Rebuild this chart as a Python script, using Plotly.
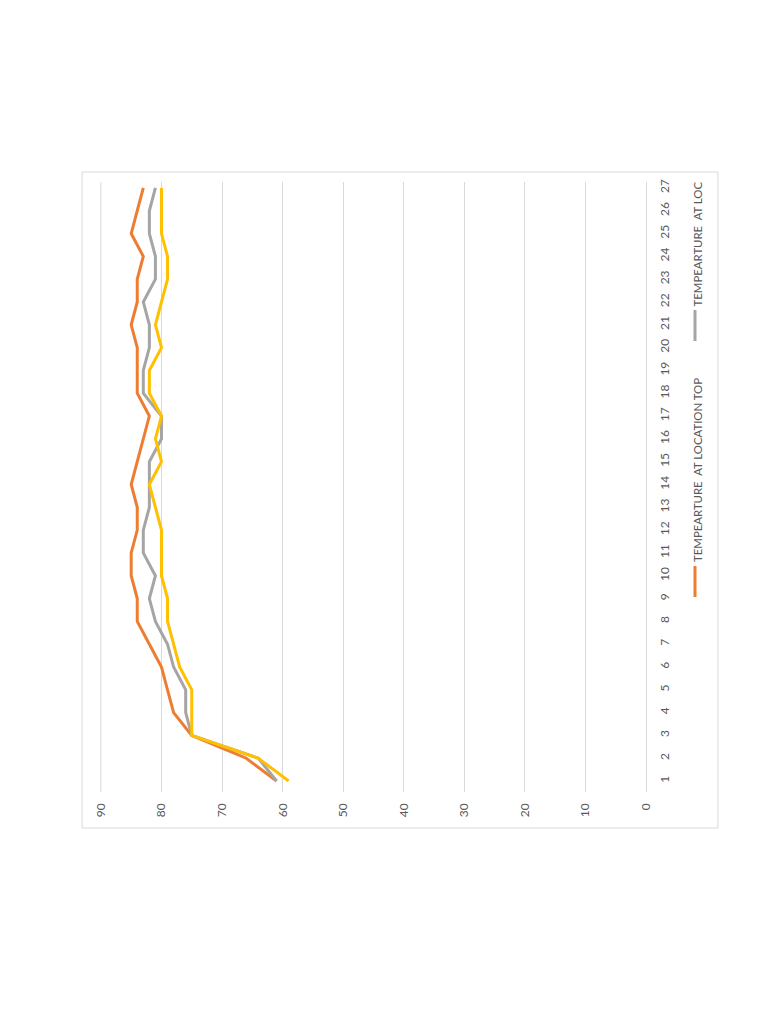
import plotly.graph_objects as go

# ---- data ----
categories = list(range(1, 28))
temp_top = [61, 66, 75, 78, 79, 80, 82, 84, 84, 85, 85, 84, 84, 85, 84, 83, 82, 84, 84, 84, 85, 84, 84, 83, 85, 84, 83]
temp_loc2 = [61, 64, 75, 76, 76, 78, 79, 81, 82, 81, 83, 83, 82, 82, 82, 80, 80, 83, 83, 82, 82, 83, 81, 81, 82, 82, 81]
temp_loc3 = [59, 64, 75, 75, 75, 77, 78, 79, 79, 80, 80, 80, 81, 82, 80, 81, 80, 82, 82, 80, 81, 80, 79, 79, 80, 80, 80]
value_ticks = [0, 10, 20, 30, 40, 50, 60, 70, 80, 90]
legend_labels = ["TEMPEARTURE  AT LOCATION TOP", "TEMPEARTURE  AT LOC"]

colors = ["#ED7D31", "#A5A5A5", "#FFC000"]
series = [temp_top, temp_loc2, temp_loc3]
names = ["TEMPEARTURE  AT LOCATION TOP", "TEMPEARTURE  AT LOCATION 2", "TEMPEARTURE  AT LOCATION 3"]

W, H = 768, 1024
L, R, T, B = 100, 122, 182, 232
PW, PH = W - L - R, H - T - B

def px(x):
    return (x - L) / PW

def py(y):
    return (H - B - y) / PH

FONT = "Lato, Liberation Sans, Arial, sans-serif"

fig = go.Figure()
for vals, col, nm in zip(series, colors, names):
    fig.add_trace(go.Scatter(
        x=vals, y=categories, mode="lines", name=nm,
        line=dict(color=col, width=3), showlegend=False,
    ))

fig.update_layout(
    width=W, height=H,
    margin=dict(l=L, r=R, t=T, b=B, pad=0),
    paper_bgcolor="white", plot_bgcolor="white",
    font=dict(family=FONT, color="#595959", size=12),
    xaxis=dict(
        range=[90.15, 0], tickvals=value_ticks, ticktext=[str(v) for v in value_ticks],
        tickangle=-90, showgrid=True, gridcolor="#d9d9d9", gridwidth=1,
        zeroline=False, showline=False, ticks="", ticklabelstandoff=8,
        tickfont=dict(family=FONT, size=12, color="#595959"),
    ),
    yaxis=dict(
        range=[0.52, 27.26], tickvals=categories, ticktext=[str(c) for c in categories],
        side="right", tickangle=-90, showgrid=False, zeroline=False,
        showline=True, linecolor="#d9d9d9", linewidth=1, ticks="",
        ticklabelstandoff=8, tickfont=dict(family=FONT, size=12, color="#595959"),
    ),
)

# gridline at the top value (edge of plot area)
fig.add_shape(type="line", xref="x", yref="paper", x0=value_ticks[-1], x1=value_ticks[-1],
              y0=0, y1=1, line=dict(color="#d9d9d9", width=1), layer="below")

# outer chart border
fig.add_shape(type="rect", xref="paper", yref="paper",
              x0=px(82), x1=px(718), y0=py(828), y1=py(172),
              line=dict(color="#d9d9d9", width=1), fillcolor="rgba(0,0,0,0)", layer="below")

# manual (rotated) legend
legend_pos = [(566, 597, 564), (310, 341, 308)]
for (y0, y1, ytxt), col, lab in zip(legend_pos, colors[:2], legend_labels):
    fig.add_shape(type="line", xref="paper", yref="paper",
                  x0=px(695), x1=px(695), y0=py(y0), y1=py(y1),
                  line=dict(color=col, width=3))
    fig.add_annotation(xref="paper", yref="paper", x=px(697), y=py(ytxt),
                       text=lab, textangle=-90, showarrow=False,
                       xanchor="center", yanchor="bottom",
                       font=dict(family=FONT, size=11.4, color="#595959"))

fig.write_html("out.html")
